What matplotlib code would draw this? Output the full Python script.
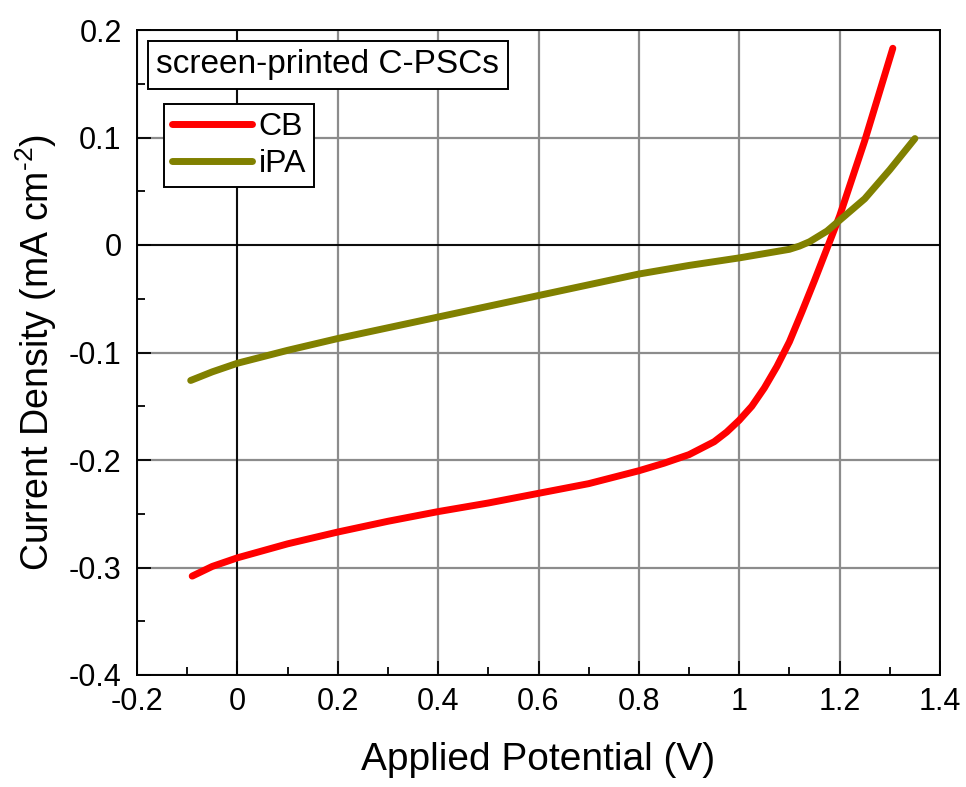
import numpy as np
import matplotlib
matplotlib.use('Agg')
from matplotlib import pyplot as plt
from matplotlib.ticker import MultipleLocator

plt.rcParams['font.family'] = ['Liberation Sans', 'DejaVu Sans']
plt.rcParams['mathtext.fontset'] = 'custom'
plt.rcParams['mathtext.rm'] = 'Liberation Sans'
plt.rcParams['mathtext.it'] = 'Liberation Sans'

# J-V curves
cb_v = [-0.09, -0.05, 0.0, 0.1, 0.2, 0.3, 0.4, 0.5, 0.6, 0.7, 0.8, 0.85, 0.9, 0.95, 0.975, 1.0, 1.025, 1.05,
        1.075, 1.1, 1.125, 1.15, 1.175, 1.2, 1.25, 1.306]
cb_j = [-0.308, -0.299, -0.291, -0.278, -0.267, -0.257, -0.248, -0.24, -0.231, -0.222, -0.21, -0.203,
        -0.195, -0.183, -0.174, -0.163, -0.15, -0.133, -0.113, -0.09, -0.062, -0.033, -0.003, 0.027, 0.097, 0.183]
ipa_v = [-0.093, -0.05, 0.0, 0.1, 0.2, 0.3, 0.4, 0.5, 0.6, 0.7, 0.8, 0.9, 1.0, 1.05, 1.1, 1.12, 1.14, 1.175,
         1.2, 1.25, 1.3, 1.35]
ipa_j = [-0.126, -0.118, -0.11, -0.098, -0.087, -0.077, -0.067, -0.057, -0.047, -0.037, -0.027, -0.019,
         -0.012, -0.008, -0.004, -0.001, 0.003, 0.013, 0.023, 0.043, 0.07, 0.099]

xticks = [-0.2, 0, 0.2, 0.4, 0.6, 0.8, 1.0, 1.2, 1.4]
xlabels = ['-0.2', '0', '0.2', '0.4', '0.6', '0.8', '1', '1.2', '1.4']
yticks = [-0.4, -0.3, -0.2, -0.1, 0, 0.1, 0.2]
ylabels = ['-0.4', '-0.3', '-0.2', '-0.1', '0', '0.1', '0.2']

fig = plt.figure(figsize=(9.66, 7.87), dpi=100)
ax = fig.add_axes([137/966, 1-675/787, 803/966, 645/787])

ax.grid(True, which='major', color='#8c8c8c', lw=1.6)
ax.axhline(0, color='black', lw=1.3)
ax.axvline(0, color='black', lw=1.3)
ax.set_axisbelow(True)

ax.plot(cb_v, cb_j, color='#ff0000', lw=5, solid_capstyle='round', solid_joinstyle='round', label='CB')
ax.plot(ipa_v, ipa_j, color='#808000', lw=5, solid_capstyle='round', solid_joinstyle='round', label='iPA')

ax.set_xlim(-0.2, 1.4)
ax.set_ylim(-0.4, 0.2)
ax.xaxis.set_minor_locator(MultipleLocator(0.1))
ax.yaxis.set_minor_locator(MultipleLocator(0.05))
ax.set_xticks(xticks)
ax.set_xticklabels(xlabels, fontsize=22)
ax.set_yticks(yticks)
ax.set_yticklabels(ylabels, fontsize=22)
ax.tick_params(which='both', direction='in', width=1.3)
ax.tick_params(axis='x', which='both', pad=9)
ax.tick_params(axis='y', which='both', pad=11)
ax.tick_params(which='major', length=10)
ax.tick_params(which='minor', length=6)
for s in ax.spines.values():
    s.set_linewidth(1.4)

ax.set_xlabel('Applied Potential (V)', fontsize=28, labelpad=18)
ax.set_ylabel(r'Current Density (mA cm$^{\text{-}2}$)', fontsize=27, labelpad=7)

ax.text(0.024, 0.946, 'screen-printed C-PSCs', transform=ax.transAxes, fontsize=24,
        va='center', ha='left',
        bbox=dict(boxstyle='square,pad=0.25', fc='white', ec='black', lw=1.4))

leg = ax.legend(loc='upper left', bbox_to_anchor=(0.034, 0.885), fontsize=23,
                frameon=True, fancybox=False, edgecolor='black', handlelength=2.5,
                handletextpad=0.2, borderpad=0.25, borderaxespad=0, labelspacing=0.22)
leg.get_frame().set_linewidth(1.4)
leg.get_frame().set_alpha(1)

fig.savefig('out.png', dpi=100)
